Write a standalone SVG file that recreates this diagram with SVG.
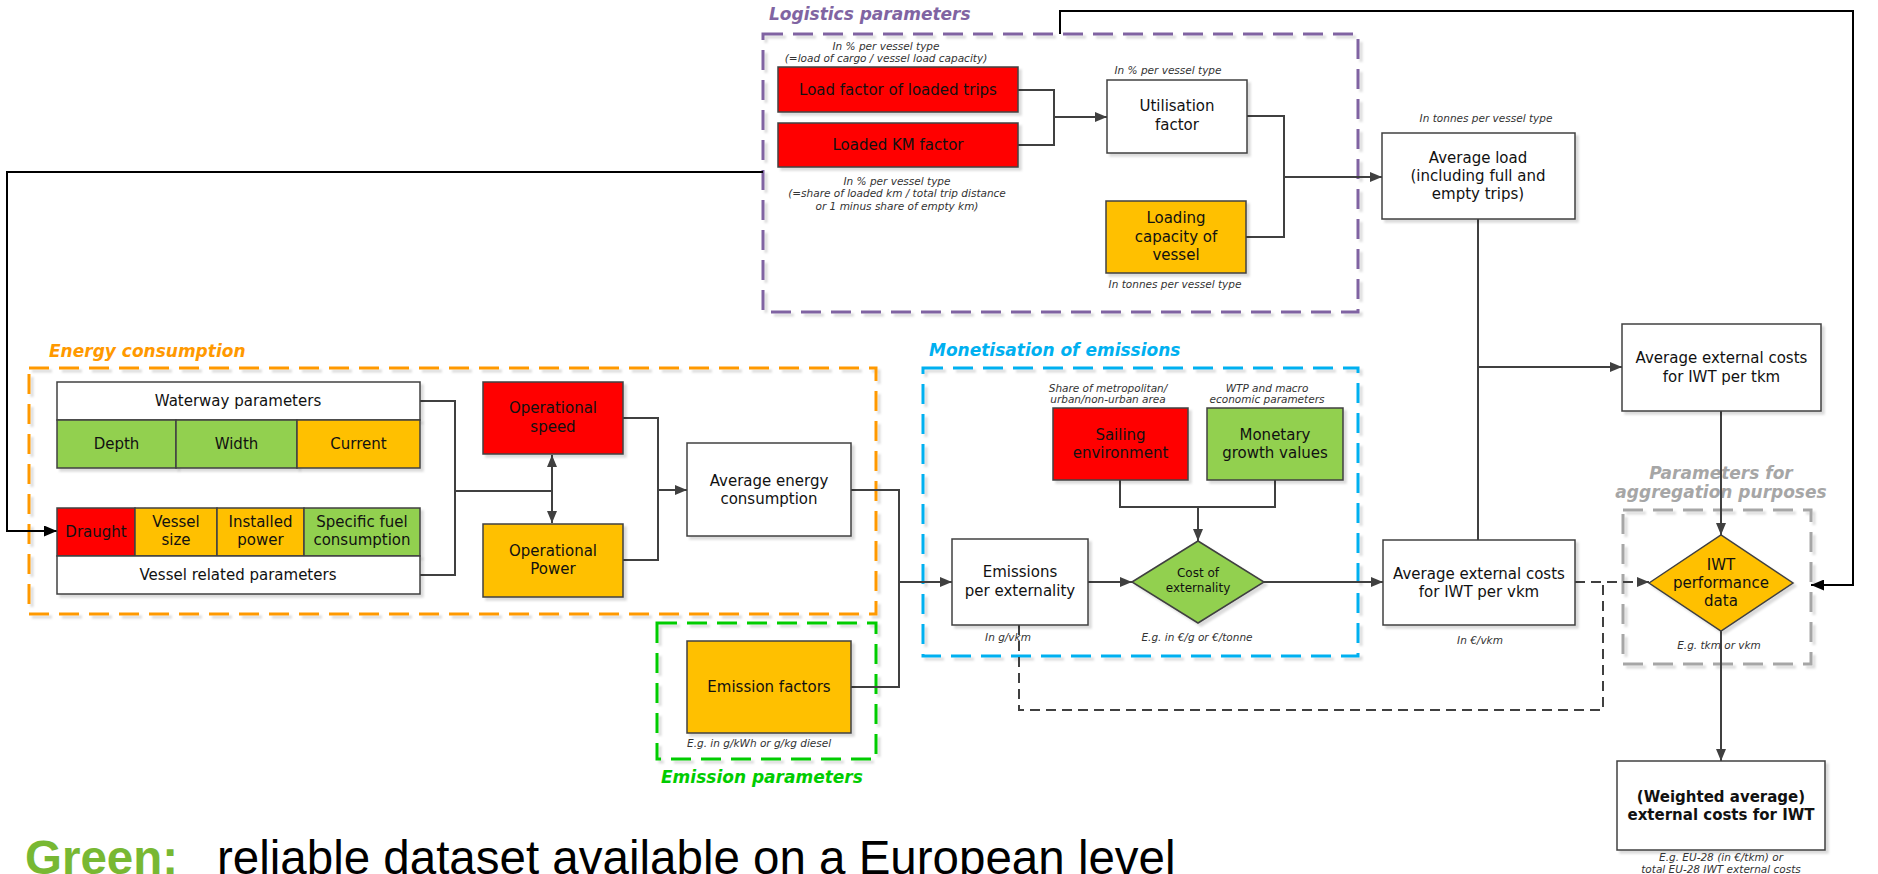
<svg xmlns="http://www.w3.org/2000/svg" width="1878" height="874" viewBox="0 0 1878 874">
<defs>
<filter id="sh" x="-10%" y="-10%" width="130%" height="130%"><feDropShadow dx="3" dy="3" stdDeviation="1.2" flood-color="#000" flood-opacity="0.14"/></filter>
<marker id="ar" markerWidth="12" markerHeight="10" refX="12" refY="5" orient="auto-start-reverse" markerUnits="userSpaceOnUse"><path d="M0,0 L12,5 L0,10 z" fill="#404040"/></marker>
<marker id="ak" markerWidth="13" markerHeight="11" refX="13" refY="5.5" orient="auto" markerUnits="userSpaceOnUse"><path d="M0,0 L13,5.5 L0,11 z" fill="#000"/></marker>
<style>
.n{stroke:#404040;stroke-width:1.5;filter:url(#sh)}
.w{fill:#fff}.r{fill:#FF0000}.o{fill:#FFC000}.g{fill:#92D050}
.t{font-family:"DejaVu Sans",Verdana,sans-serif;font-size:15px;fill:#111;text-anchor:middle}
.s{font-family:"DejaVu Sans",Verdana,sans-serif;font-size:12px;fill:#111;text-anchor:middle}
.b{font-weight:bold}
.a{font-family:"DejaVu Sans",Verdana,sans-serif;font-size:10.5px;font-style:italic;fill:#333;text-anchor:middle}
.al{text-anchor:start}
.h{font-family:"DejaVu Sans",Verdana,sans-serif;font-size:17px;font-weight:bold;font-style:italic}
.hm{text-anchor:middle}
.c{fill:none;stroke:#404040;stroke-width:2}
.k{fill:none;stroke:#000;stroke-width:2}
.d{fill:none;stroke:#404040;stroke-width:2;stroke-dasharray:10 6}
.gb{fill:none;stroke-width:3;stroke-dasharray:20 10;filter:url(#sh)}
</style>
</defs>
<rect width="1878" height="874" fill="#fff"/>

<g id="groups">
<rect class="gb" x="763" y="34" width="595" height="278" stroke="#8064A2"/>
<text class="h" x="769" y="20" fill="#8064A2">Logistics parameters</text>
<rect class="gb" x="29" y="368" width="847" height="246" stroke="#FF9900"/>
<text class="h" x="49" y="357" fill="#FF9900">Energy consumption</text>
<rect class="gb" x="923" y="368" width="435" height="288" stroke="#00B0F0"/>
<text class="h" x="929" y="356" fill="#00B0F0">Monetisation of emissions</text>
<rect class="gb" x="657" y="623" width="219" height="136" stroke="#00CC00"/>
<text class="h" x="661" y="783" fill="#00CC00">Emission parameters</text>
<rect class="gb" x="1623" y="510" width="188" height="154" stroke="#A6A6A6"/>
<text class="h hm" x="1721" y="479" fill="#A6A6A6">Parameters for</text>
<text class="h hm" x="1721" y="498" fill="#A6A6A6">aggregation purposes</text>
</g>

<g id="connectors">
<path class="c" d="M1018,90 H1054 V145 H1018"/>
<path class="c" d="M1054,117 H1107" marker-end="url(#ar)"/>
<path class="c" d="M1247,116 H1284 V237 H1246"/>
<path class="c" d="M1284,177 H1382" marker-end="url(#ar)"/>
<path class="c" d="M1478,219 V540"/>
<path class="c" d="M1478,367 H1622" marker-end="url(#ar)"/>
<path class="c" d="M1721,411 V535" marker-end="url(#ar)"/>
<path class="c" d="M1721,631 V761" marker-end="url(#ar)"/>
<path class="d" d="M1019,625 V710 H1603 V582"/>
<path class="d" d="M1575,582 H1649" marker-end="url(#ar)"/>
<path class="k" d="M1060,34 V11 H1853 V585 H1811" marker-end="url(#ak)"/>
<path class="k" d="M763,172 H7 V531 H57" marker-end="url(#ak)"/>
<path class="c" d="M420,401 H455 V575 H420"/>
<path class="c" d="M455,491 H552"/>
<path class="c" d="M552,455 V523" marker-start="url(#ar)" marker-end="url(#ar)"/>
<path class="c" d="M623,418 H658 V560 H623"/>
<path class="c" d="M658,490 H687" marker-end="url(#ar)"/>
<path class="c" d="M851,490 H899 V687 H851"/>
<path class="c" d="M899,582 H952" marker-end="url(#ar)"/>
<path class="c" d="M1088,582 H1132" marker-end="url(#ar)"/>
<path class="c" d="M1264,582 H1383" marker-end="url(#ar)"/>
<path class="c" d="M1120,480 V507 H1275 V480"/>
<path class="c" d="M1198,507 V541" marker-end="url(#ar)"/>
</g>

<g id="load-factor">
<text class="a" x="886" y="50">In % per vessel type</text>
<text class="a" x="886" y="62">(=load of cargo / vessel load capacity)</text>
<rect class="n r" x="778" y="67" width="240" height="45"/>
<text class="t" x="898" y="95">Load factor of loaded trips</text>
</g>
<g id="loaded-km">
<rect class="n r" x="778" y="123" width="240" height="44"/>
<text class="t" x="898" y="150">Loaded KM factor</text>
<text class="a" x="897" y="184.5">In % per vessel type</text>
<text class="a" x="897" y="197">(=share of loaded km / total trip distance</text>
<text class="a" x="897" y="209.5">or 1 minus share of empty km)</text>
</g>
<g id="utilisation">
<text class="a" x="1168" y="73.5">In % per vessel type</text>
<rect class="n w" x="1107" y="80" width="140" height="73"/>
<text class="t" x="1177" y="111">Utilisation</text>
<text class="t" x="1177" y="130">factor</text>
</g>
<g id="loading-capacity">
<rect class="n o" x="1106" y="201" width="140" height="72"/>
<text class="t" x="1176" y="223">Loading</text>
<text class="t" x="1176" y="242">capacity of</text>
<text class="t" x="1176" y="260">vessel</text>
<text class="a" x="1175" y="288">In tonnes per vessel type</text>
</g>
<g id="average-load">
<text class="a" x="1486" y="121.5">In tonnes per vessel type</text>
<rect class="n w" x="1382" y="133" width="193" height="86"/>
<text class="t" x="1478" y="163">Average load</text>
<text class="t" x="1478" y="181">(including full and</text>
<text class="t" x="1478" y="199">empty trips)</text>
</g>

<g id="waterway-parameters">
<rect class="n w" x="57" y="382" width="363" height="38"/>
<text class="t" x="238" y="406">Waterway parameters</text>
<rect class="n g" x="57" y="420" width="119" height="48"/>
<text class="t" x="116.5" y="449">Depth</text>
<rect class="n g" x="176" y="420" width="121" height="48"/>
<text class="t" x="236.5" y="449">Width</text>
<rect class="n o" x="297" y="420" width="123" height="48"/>
<text class="t" x="358.5" y="449">Current</text>
</g>
<g id="vessel-parameters">
<rect class="n r" x="57" y="508" width="78" height="48"/>
<text class="t" x="96" y="537">Draught</text>
<rect class="n o" x="135" y="508" width="82" height="48"/>
<text class="t" x="176" y="527">Vessel</text>
<text class="t" x="176" y="545">size</text>
<rect class="n o" x="217" y="508" width="87" height="48"/>
<text class="t" x="260.5" y="527">Installed</text>
<text class="t" x="260.5" y="545">power</text>
<rect class="n g" x="304" y="508" width="116" height="48"/>
<text class="t" x="362" y="527">Specific fuel</text>
<text class="t" x="362" y="545">consumption</text>
<rect class="n w" x="57" y="556" width="363" height="38"/>
<text class="t" x="238" y="580">Vessel related parameters</text>
</g>
<g id="operational-speed">
<rect class="n r" x="483" y="382" width="140" height="72"/>
<text class="t" x="553" y="413">Operational</text>
<text class="t" x="553" y="432">speed</text>
</g>
<g id="operational-power">
<rect class="n o" x="483" y="524" width="140" height="73"/>
<text class="t" x="553" y="556">Operational</text>
<text class="t" x="553" y="574">Power</text>
</g>
<g id="average-energy">
<rect class="n w" x="687" y="443" width="164" height="93"/>
<text class="t" x="769" y="486">Average energy</text>
<text class="t" x="769" y="504">consumption</text>
</g>
<g id="emission-factors">
<rect class="n o" x="687" y="641" width="164" height="92"/>
<text class="t" x="769" y="692">Emission factors</text>
<text class="a al" x="687" y="747">E.g. in g/kWh or g/kg diesel</text>
</g>

<g id="sailing-environment">
<text class="a" x="1108" y="391.5">Share of metropolitan/</text>
<text class="a" x="1108" y="402.5">urban/non-urban area</text>
<rect class="n r" x="1053" y="408" width="135" height="72"/>
<text class="t" x="1120.5" y="440">Sailing</text>
<text class="t" x="1120.5" y="458">environment</text>
</g>
<g id="monetary-growth">
<text class="a" x="1267" y="391.5">WTP and macro</text>
<text class="a" x="1267" y="402.5">economic parameters</text>
<rect class="n g" x="1207" y="408" width="136" height="72"/>
<text class="t" x="1275" y="440">Monetary</text>
<text class="t" x="1275" y="458">growth values</text>
</g>
<g id="emissions-per-externality">
<rect class="n w" x="952" y="539" width="136" height="86"/>
<text class="t" x="1020" y="577">Emissions</text>
<text class="t" x="1020" y="596">per externality</text>
<text class="a" x="1008" y="641">In g/vkm</text>
</g>
<g id="cost-of-externality">
<polygon class="n g" points="1132,582 1198,541 1264,582 1198,623"/>
<text class="s" x="1198" y="577">Cost of</text>
<text class="s" x="1198" y="592">externality</text>
<text class="a" x="1197" y="641">E.g. in  €/g or €/tonne</text>
</g>

<g id="avg-cost-vkm">
<rect class="n w" x="1383" y="540" width="192" height="85"/>
<text class="t" x="1479" y="578.5">Average external costs</text>
<text class="t" x="1479" y="597">for IWT per vkm</text>
<text class="a" x="1480" y="644">In  €/vkm</text>
</g>
<g id="avg-cost-tkm">
<rect class="n w" x="1622" y="324" width="199" height="87"/>
<text class="t" x="1721.5" y="363">Average external costs</text>
<text class="t" x="1721.5" y="382">for IWT per tkm</text>
</g>
<g id="iwt-performance">
<polygon class="n o" points="1649,583 1721,535 1793,583 1721,631"/>
<text class="t" x="1721" y="570">IWT</text>
<text class="t" x="1721" y="588">performance</text>
<text class="t" x="1721" y="606">data</text>
<text class="a" x="1719" y="648.5">E.g. tkm or vkm</text>
</g>
<g id="weighted-costs">
<rect class="n w" x="1617" y="761" width="208" height="89"/>
<text class="t b" x="1721" y="802">(Weighted average)</text>
<text class="t b" x="1721" y="820">external costs for IWT</text>
<text class="a" x="1721" y="860.5">E.g. EU-28 (in €/tkm) or</text>
<text class="a" x="1721" y="873">total EU-28 IWT external costs</text>
</g>

<text id="legend" x="25" y="874" font-family="'Liberation Sans',Arial,sans-serif" font-size="47.5" fill="#000"><tspan font-weight="bold" fill="#78B833">Green:</tspan><tspan x="217">reliable dataset available on a European level</tspan></text>
</svg>
